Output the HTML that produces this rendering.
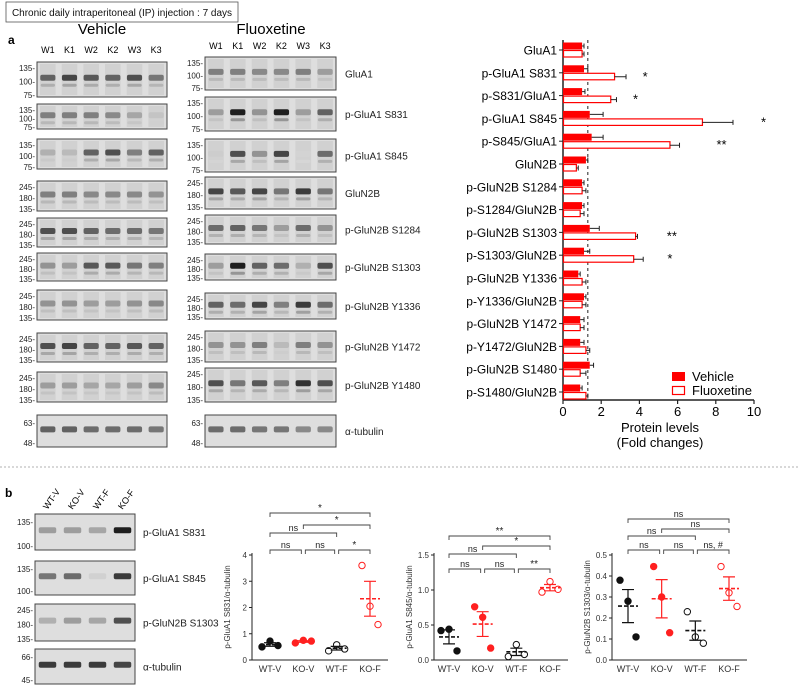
<!DOCTYPE html>
<html><head><meta charset="utf-8">
<style>
html,body{margin:0;padding:0;background:#fff;}
svg{display:block;font-family:"Liberation Sans",Arial,sans-serif;}
</style></head>
<body>
<svg id="fig" width="798" height="698" viewBox="0 0 798 698" xmlns="http://www.w3.org/2000/svg">
<rect x="6" y="2" width="232" height="20" fill="#fff" stroke="#555" stroke-width="0.8"/>
<text x="122" y="16" font-size="10" text-anchor="middle" fill="#111">Chronic daily intraperitoneal (IP) injection : 7 days</text>
<text x="8" y="44" font-size="12" font-weight="bold">a</text>
<text x="102" y="34" font-size="15" text-anchor="middle">Vehicle</text>
<text x="271" y="34" font-size="15" text-anchor="middle">Fluoxetine</text>
<line x1="0" y1="467" x2="798" y2="467" stroke="#999" stroke-width="0.8" stroke-dasharray="2,2"/>
<text x="5" y="497" font-size="12" font-weight="bold">b</text>
<g id="blots"></g>
<g id="barchart"></g>
<g id="scatter"></g>
</svg>
<script>
const NS="http://www.w3.org/2000/svg";
function mk(tag,attrs,parent,txt){const e=document.createElementNS(NS,tag);for(const k in attrs)e.setAttribute(k,attrs[k]);if(txt!==undefined)e.textContent=txt;parent.appendChild(e);return e;}

// ---------- Blots ----------
const blotG=document.getElementById('blots');
const laneNames=["W1","K1","W2","K2","W3","K3"];
const blotLabels=["GluA1","p-GluA1 S831","p-GluA1 S845","GluN2B","p-GluN2B S1284","p-GluN2B S1303","p-GluN2B Y1336","p-GluN2B Y1472","p-GluN2B Y1480","α-tubulin"];
const leftRows=[[62,97],[104,129],[139,169],[181,211],[218,247],[253,281],[290,320],[333,362],[372,402],[415,447]];
const rightRows=[[57,90],[97,131],[139,172],[177,209],[215,244],[254,280],[293,319],[331,362],[368,402],[415,447]];
const mwA=[["135-","100-","75-"],["135-","100-","75-"],["135-","100-","75-"],["245-","180-","135-"],["245-","180-","135-"],["245-","180-","135-"],["245-","180-","135-"],["245-","180-","135-"],["245-","180-","135-"],["63-","48-"]];
const vehInt=[[.6,.75,.65,.6,.7,.5],[.45,.45,.45,.4,.25,.1],[.2,.15,.6,.7,.45,.6],[.45,.45,.4,.4,.4,.35],[.7,.7,.6,.55,.55,.5],[.35,.3,.65,.65,.5,.45],[.35,.35,.3,.3,.35,.4],[.7,.75,.6,.6,.65,.6],[.3,.3,.25,.25,.3,.4],[.6,.6,.55,.55,.55,.5]];
const fluInt=[[.45,.45,.4,.4,.45,.3],[.3,.95,.35,.95,.3,.6],[.05,.7,.35,.75,.02,.55],[.75,.65,.75,.5,.8,.5],[.55,.6,.5,.3,.55,.35],[.3,.95,.6,.55,.2,.7],[.6,.55,.75,.45,.8,.55],[.35,.35,.45,.15,.45,.35],[.7,.5,.65,.45,.85,.7],[.55,.55,.5,.5,.4,.4]];
function band(v){const g=Math.round(215-195*v);return `rgb(${g},${g},${g})`;}
function drawBlot(x0,x1,rows,ints,mw,names,labelX,prefix,lanes,smear){
  rows.forEach((r,i)=>{
    const [y0,y1]=r;
    const b=mk('rect',{x:x0,y:y0,width:x1-x0,height:y1-y0,fill:'#dedede',stroke:'#444','stroke-width':1},blotG);
    
    
    const lw=(x1-x0)/lanes;
    ints[i].forEach((v,j)=>{
      const cx=x0+lw*(j+0.5);
      if(smear && i<9){
        const sm=mk('rect',{x:cx-lw*0.36,y:y0+2,width:lw*0.72,height:y1-y0-4,fill:'#c8c8c8',opacity:0.6},blotG);
        
        
      }
      const by=y0+(y1-y0)*0.45;
      const bd=mk('rect',{x:cx-lw*0.35,y:by-3,width:lw*0.7,height:6,fill:band(v),rx:2},blotG);
      
      
      if(smear && i<9){
        const b2=mk('rect',{x:cx-lw*0.33,y:by+6,width:lw*0.66,height:3,fill:band(v*0.35),rx:1.5},blotG);
        
        
      }
    });
    const n=mw[i].length;
    mw[i].forEach((t,k)=>{
      const ty=n===2? (k===0?y0+8:y1-4) : y0+6+k*((y1-y0-8)/2);
      const tt=mk('text',{x:x0-2,y:ty+3,'font-size':8,'text-anchor':'end',fill:'#222'},blotG,t);
      
      
    });
    if(names){
      const lt=mk('text',{x:labelX,y:(y0+y1)/2+4,'font-size':10,fill:'#222'},blotG,names[i]);
      
      
    }
  });
}
drawBlot(37,167,leftRows,vehInt,mwA,null,0,'vehicle',6,true);
drawBlot(205,336,rightRows,fluInt,mwA,blotLabels,345,'fluoxetine',6,true);
laneNames.forEach((l,j)=>{
  const a=mk('text',{x:37+130/6*(j+0.5),y:53,'font-size':9,'text-anchor':'middle'},blotG,l);
  
  
  const b=mk('text',{x:205+131/6*(j+0.5),y:49,'font-size':9,'text-anchor':'middle'},blotG,l);
  
  
});
const bRows=[[514,550],[561,595],[604,641],[649,684]];
const bLabels=["p-GluA1 S831","p-GluA1 S845","p-GluN2B S1303","α-tubulin"];
const bMw=[["135-","100-"],["135-","100-"],["245-","180-","135-"],["66-","45-"]];
const bInt=[[.3,.3,.25,.95],[.5,.55,.03,.8],[.2,.3,.25,.7],[.8,.8,.8,.75]];
drawBlot(35,135,bRows,bInt,bMw,bLabels,143,'panel-b',4,false);
["WT-V","KO-V","WT-F","KO-F"].forEach((l,j)=>{
  const x=35+25*(j+0.5);
  const t=mk('text',{x:x,y:510,'font-size':9,transform:`rotate(-55 ${x} 510)`},blotG,l);
  
  
});

// ---------- Horizontal bar chart ----------
const barCats=["GluA1","p-GluA1 S831","p-S831/GluA1","p-GluA1 S845","p-S845/GluA1","GluN2B","p-GluN2B S1284","p-S1284/GluN2B","p-GluN2B S1303","p-S1303/GluN2B","p-GluN2B Y1336","p-Y1336/GluN2B","p-GluN2B Y1472","p-Y1472/GluN2B","p-GluN2B S1480","p-S1480/GluN2B"];
const vehVals=[1.0,1.1,1.0,1.4,1.5,1.2,1.0,1.0,1.4,1.1,0.8,1.1,0.9,0.9,1.4,0.9];
const vehErr=[0.1,0.2,0.15,0.7,0.6,0.1,0.1,0.1,0.5,0.3,0.1,0.1,0.2,0.2,0.2,0.1];
const fluVals=[1.0,2.7,2.5,7.3,5.6,0.7,1.0,0.9,3.8,3.7,1.0,1.0,0.9,1.2,0.9,1.2];
const fluErr=[0.1,0.6,0.3,1.6,0.5,0.1,0.2,0.2,0.1,0.5,0.2,0.2,0.2,0.2,0.3,0.1];
const sigLabels=["","*","*","*","**","","","","**","*","","","","","",""];
const sigPos=[0,4.3,3.8,10.5,8.3,0,0,0,5.7,5.6,0,0,0,0,0,0];
const xTicks=[0,2,4,6,8,10];
const refLine=1.3;
const bc=document.getElementById('barchart');
const bx=v=>563+v*19.1;
const by=i=>50+i*22.8;
{
  const ax=mk('line',{x1:563,y1:40,x2:563,y2:400,stroke:'#222','stroke-width':1.5},bc);
  
  const xa=mk('line',{x1:563,y1:400,x2:bx(10),y2:400,stroke:'#222','stroke-width':1.5},bc);
  
  const rl=mk('line',{x1:bx(refLine),y1:40,x2:bx(refLine),y2:400,stroke:'#222','stroke-width':1,'stroke-dasharray':'3,3'},bc);
  
}
xTicks.forEach(t=>{
  const l=mk('line',{x1:bx(t),y1:400,x2:bx(t),y2:404,stroke:'#222','stroke-width':1.2},bc);
  
  const tx=mk('text',{x:bx(t),y:416,'font-size':13,'text-anchor':'middle'},bc,t);
  
});
barCats.forEach((c,i)=>{
  const y=by(i);
  const lb=mk('text',{x:557,y:y+4.5,'font-size':12,'text-anchor':'end'},bc,c);
  
  const tk=mk('line',{x1:559,y1:y,x2:563,y2:y,stroke:'#222'},bc);
  
  const vb=mk('rect',{x:563,y:y-7.5,width:bx(vehVals[i])-563,height:7,fill:'#ff0000'},bc);
  
  const fb=mk('rect',{x:563.5,y:y+0.5,width:bx(fluVals[i])-563.5,height:6.5,fill:'#fff',stroke:'#ff0000','stroke-width':1.2},bc);
  
  [[vehVals[i],vehErr[i],y-4],[fluVals[i],fluErr[i],y+4]].forEach(([v,e,yy])=>{
    const el=mk('path',{d:`M${bx(v)} ${yy}H${bx(v+e)}M${bx(v+e)} ${yy-2.5}V${yy+2.5}`,stroke:'#222','stroke-width':1,fill:'none'},bc);
    
  });
  if(sigLabels[i]){
    const s=mk('text',{x:bx(sigPos[i]),y:y+8,'font-size':13,'text-anchor':'middle'},bc,sigLabels[i]);
    
  }
});
{
  const r1=mk('rect',{x:672,y:372,width:13,height:9,fill:'#ff0000'},bc);
  
  const t1=mk('text',{x:692,y:381,'font-size':13},bc,'Vehicle');
  
  const r2=mk('rect',{x:672.5,y:386.5,width:12,height:8,fill:'#fff',stroke:'#ff0000','stroke-width':1.2},bc);
  
  const t2=mk('text',{x:692,y:395,'font-size':13},bc,'Fluoxetine');
  
  const a1=mk('text',{x:660,y:432,'font-size':13,'text-anchor':'middle'},bc,'Protein levels');
  
  const a2=mk('text',{x:660,y:447,'font-size':13,'text-anchor':'middle'},bc,'(Fold changes)');
  
}

// ---------- Scatter charts (panel b) ----------
const groups=["WT-V","KO-V","WT-F","KO-F"];
const s831WTV=[0.5,0.72,0.55], s831KOV=[0.65,0.75,0.72], s831WTF=[0.35,0.58,0.42], s831KOF=[3.6,2.05,1.35];
const s845WTV=[0.42,0.44,0.13], s845KOV=[0.76,0.61,0.17], s845WTF=[0.05,0.22,0.08], s845KOF=[0.97,1.12,1.01];
const s1303WTV=[0.38,0.28,0.11], s1303KOV=[0.445,0.30,0.13], s1303WTF=[0.23,0.11,0.08], s1303KOF=[0.445,0.32,0.255];
const ticks831=[0,1,2,3,4], ticks845=[0,0.5,1.0,1.5], ticks1303=[0,0.1,0.2,0.3,0.4,0.5];
const tickLbl845=["0.0","0.5","1.0","1.5"], tickLbl1303=["0.0","0.1","0.2","0.3","0.4","0.5"];
const sig831=["ns","ns","*","ns","*","*"], sig845=["ns","ns","**","ns","*","**"], sig1303=["ns","ns","ns, #","ns","ns","ns"];
const jit=[-8,0,8];
const sc=document.getElementById('scatter');
function scatter(cfg){
  const {ax,x0,x1,ymax,ticks,labels,data,sig,title,bl,name}=cfg;
  const yz=660, yt=555;
  const Y=v=>yz-(v/ymax)*(yz-yt);
  const cx=i=>x0+(x1-x0)*i/3;
  const a=mk('path',{d:`M${ax} ${yt-2}V${yz}H${x1+18}`,stroke:'#222','stroke-width':1,fill:'none'},sc);
  
  ticks.forEach((t,k)=>{
    const l=mk('line',{x1:ax-3,y1:Y(t),x2:ax,y2:Y(t),stroke:'#222'},sc);
    
    const tx=mk('text',{x:ax-5,y:Y(t)+3,'font-size':8,'text-anchor':'end',fill:'#333'},sc,labels[k]);
    
  });
  const tt=mk('text',{x:ax-22,y:607,'font-size':8,'text-anchor':'middle',transform:`rotate(-90 ${ax-22} 607)`,fill:'#333'},sc,title);
  
  groups.forEach((g,i)=>{
    const gl=mk('text',{x:cx(i),y:672,'font-size':9,'text-anchor':'middle',fill:'#333'},sc,g);
    
    const vals=data[i];
    const red=i%2===1, hollow=i>=2;
    const col=red?'#ff2020':'#111';
    const m=vals.reduce((s,v)=>s+v,0)/vals.length;
    const sd=Math.sqrt(vals.reduce((s,v)=>s+(v-m)*(v-m),0)/(vals.length-1));
    const se=sd/Math.sqrt(vals.length);
    vals.forEach((v,k)=>{
      const p=mk('circle',{cx:cx(i)+jit[k],cy:Y(v),r:3.2,fill:hollow?'#fff':col,stroke:col,'stroke-width':1},sc);
      
    });
    const ml=mk('line',{x1:cx(i)-10,y1:Y(m),x2:cx(i)+10,y2:Y(m),stroke:col,'stroke-width':1.6,'stroke-dasharray':'4,2'},sc);
    
    const eb=mk('path',{d:`M${cx(i)} ${Y(m+se)}V${Y(m-se)}M${cx(i)-6} ${Y(m+se)}H${cx(i)+6}M${cx(i)-6} ${Y(m-se)}H${cx(i)+6}`,stroke:col,'stroke-width':1.2,fill:'none'},sc);
    
  });
  const pairs=[[0,1,bl[0]],[1,2,bl[0]],[2,3,bl[0]],[0,2,bl[1]],[1,3,bl[2]],[0,3,bl[3]]];
  pairs.forEach(([a1,b1,y],k)=>{
    const xa=cx(a1)+(k<3&&a1>0?2:0), xb=cx(b1)-(k<3&&b1<3?2:0);
    const br=mk('path',{d:`M${xa} ${y+4}V${y}H${xb}V${y+4}`,stroke:'#444','stroke-width':0.9,fill:'none'},sc);
    
    const st=mk('text',{x:(xa+xb)/2+(k===3?-10:0),y:y-2,'font-size':sig[k].indexOf('ns')>=0?9:10,'text-anchor':'middle',fill:'#222'},sc,sig[k]);
    
  });
}
scatter({name:'s831',ax:252,x0:270,x1:370,ymax:4,ticks:ticks831,labels:ticks831.map(String),data:[s831WTV,s831KOV,s831WTF,s831KOF],sig:sig831,title:'p-GluA1 S831/α-tubulin',bl:[550,533,525,513]});
scatter({name:'s845',ax:434,x0:449,x1:550,ymax:1.5,ticks:ticks845,labels:tickLbl845,data:[s845WTV,s845KOV,s845WTF,s845KOF],sig:sig845,title:'p-GluA1 S845/α-tubulin',bl:[569,554,546,536]});
scatter({name:'s1303',ax:612,x0:628,x1:729,ymax:0.5,ticks:ticks1303,labels:tickLbl1303,data:[s1303WTV,s1303KOV,s1303WTF,s1303KOF],sig:sig1303,title:'p-GluN2B S1303/α-tubulin',bl:[550,536,529,519]});
</script>
</body></html>
